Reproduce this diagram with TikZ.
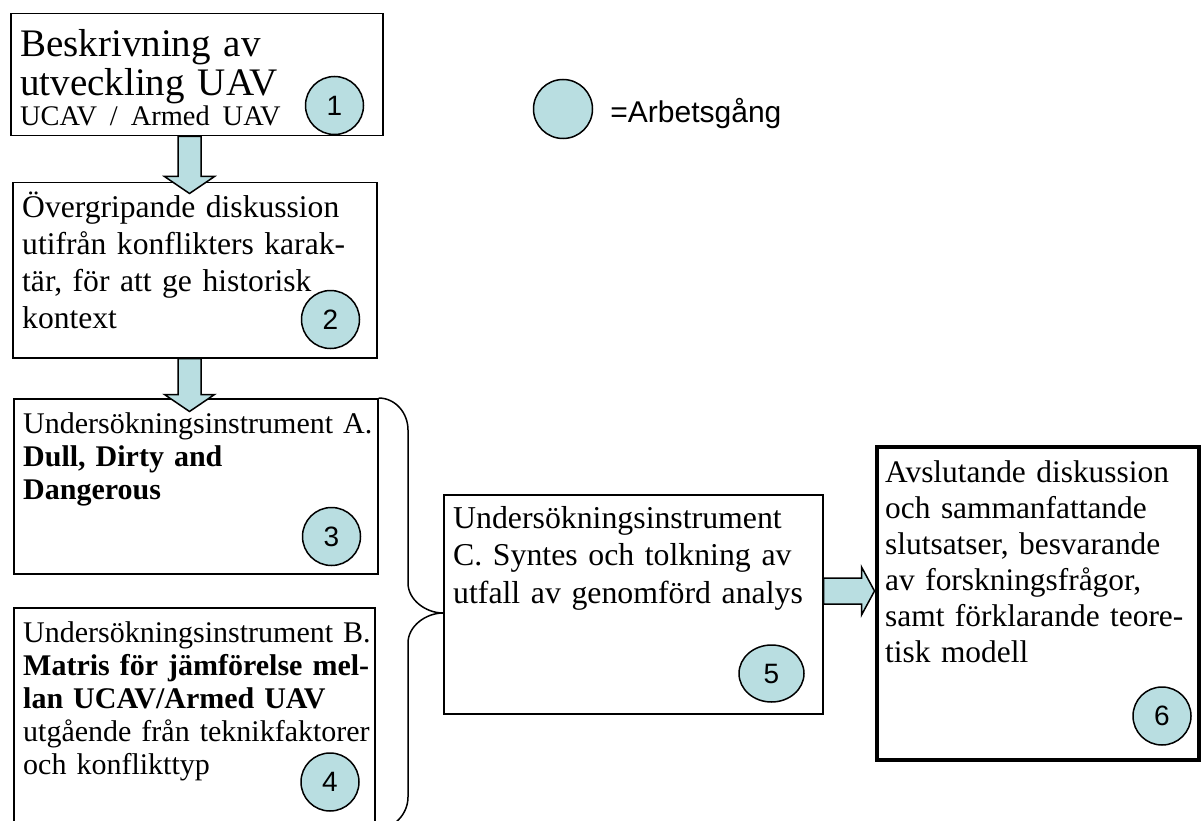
\documentclass[tikz,border=0pt]{standalone}
\usepackage{fontspec}
\setmainfont{Liberation Serif}
\newfontfamily\numfont{Liberation Sans}
\usetikzlibrary{calc,positioning,shapes.geometric}
\definecolor{steptint}{RGB}{185,222,225}

\begin{document}
\begin{tikzpicture}[x=1pt, y=-1pt, line join=miter,
		box/.style={draw, line width=1.5pt, anchor=north west, inner sep=0pt},
		boxtext/.style={anchor=north west, align=left, inner xsep=10pt, inner ysep=0pt, text width=#1},
		workstep/.style={circle, draw, line width=1.5pt, fill=steptint, minimum size=58pt, inner sep=0pt,
			font=\numfont\fontsize{28}{28}\selectfont},
		flowarrow/.style={draw, line width=1.5pt, fill=steptint},
		bracket/.style={draw, line width=1.5pt}]
	
	\useasboundingbox (0,0) rectangle (1201,821);
	
	% Left column: steps 1 and 2
	\node[box, minimum width=372pt, minimum height=122pt] (b1) at (10,13) {};
	\node[boxtext=350pt, font=\fontsize{39}{37}\selectfont] (t1) at ($(b1.north west)+(0,16)$)
		{\strut Beskrivning av\\utveckling UAV\\[-7pt]{\fontsize{28.4}{30}\selectfont UCAV / Armed UAV}};
	\node[workstep] (c1) at ($(b1.south east)+(-49,-31)$) {1};
	
	\node[box, minimum width=364pt, minimum height=175pt] (b2) at (12,182) {};
	\node[boxtext=350pt, font=\fontsize{31.6}{37}\selectfont] (t2) at ($(b2.north west)+(0,9)$)
		{\strut Övergripande diskussion\\utifrån konflikters karak-\\tär, för att ge historisk\\kontext};
	\node[workstep] (c2) at ($(b2.south east)+(-47,-39)$) {2};
	
	% Instruments A and B
	\node[box, minimum width=364pt, minimum height=175pt] (b3) at (13,398) {};
	\node[boxtext=350pt, font=\fontsize{30}{33}\selectfont] (t3) at ($(b3.north west)+(0,12)$)
		{\strut Undersökningsinstrument A.\\\textbf{Dull, Dirty and}\\\textbf{Dangerous}};
	\node[workstep] (c3) at ($(b3.south east)+(-47,-38)$) {3};
	
	\node[box, minimum width=361pt, minimum height=230pt] (b4) at (13,607) {};
	\node[boxtext=350pt, font=\fontsize{30}{33}\selectfont] (t4) at ($(b4.north west)+(0,12)$)
		{\strut Undersökningsinstrument B.\\\textbf{Matris för jämförelse mel-}\\\textbf{lan UCAV/Armed UAV}\\utgående från teknikfaktorer\\och konflikttyp};
	\node[workstep] (c4) at (330,782) {4};
	
	% Instrument C
	\node[box, minimum width=379pt, minimum height=219pt] (b5) at (443,494) {};
	\node[boxtext=360pt, font=\fontsize{31.8}{37.5}\selectfont] (t5) at ($(b5.north west)+(0,8)$)
		{\strut Undersökningsinstrument\\C. Syntes och tolkning av\\utfall av genomförd analys};
	\node[workstep, ellipse, minimum width=65pt, minimum height=57pt] (c5) at ($(b5.south east)+(-52,-41)$) {5};
	
	% Final discussion
	\node[box, line width=4pt, minimum width=322pt, minimum height=313pt] (b6) at (875,445) {};
	\node[boxtext=310pt, font=\fontsize{31.4}{36}\selectfont] (t6) at ($(b6.north west)+(0,12)$)
		{\strut Avslutande diskussion\\och sammanfattande\\slutsatser, besvarande\\av forskningsfrågor,\\samt förklarande teore-\\tisk modell};
	\node[workstep] (c6) at ($(b6.south east)+(-39,-46)$) {6};
	
	% Legend
	\node[workstep, minimum size=59pt] (legend) at (563,109) {};
	\node[anchor=base west, inner sep=0pt, font=\numfont\fontsize{30}{30}\selectfont] (legtext)
		at ($(legend.east)+(17,14)$) {=Arbetsgång};
	
	% Block arrows
	\draw[flowarrow] ($(b1.south west)+(168,0)$) -- ++(0,40) -- ++(-13.5,0) -- ++(25,17)
		-- ++(25,-17) -- ++(-13.5,0) -- ++(0,-40) -- cycle;
	\draw[flowarrow] ($(b2.south west)+(166,0)$) -- ++(0,36) -- ++(-13.5,0) -- ++(25,17)
		-- ++(25,-17) -- ++(-13.5,0) -- ++(0,-36) -- cycle;
	\draw[flowarrow] ($(b5.north east)+(0,84)$) -- ++(38,0) -- ++(0,-11) -- ++(13,24)
		-- ++(-13,24) -- ++(0,-11) -- ++(-38,0) -- cycle;
	
	% Bracket joining A and B into C
	\coordinate (brtop) at (b3.north east);
	\coordinate (brtip) at ($(b5.north west)+(0,119)$);
	\draw[bracket] (brtop) .. controls +(17,0) and +(0,-17) .. (408,430) -- (408,583)
		.. controls +(0,17) and +(-17,0) .. (brtip)
		.. controls +(-17,0) and +(0,-17) .. (408,643) -- (408,797)
		.. controls +(0,17) and +(17,0) .. (377,829);
	
\end{tikzpicture}
\end{document}
